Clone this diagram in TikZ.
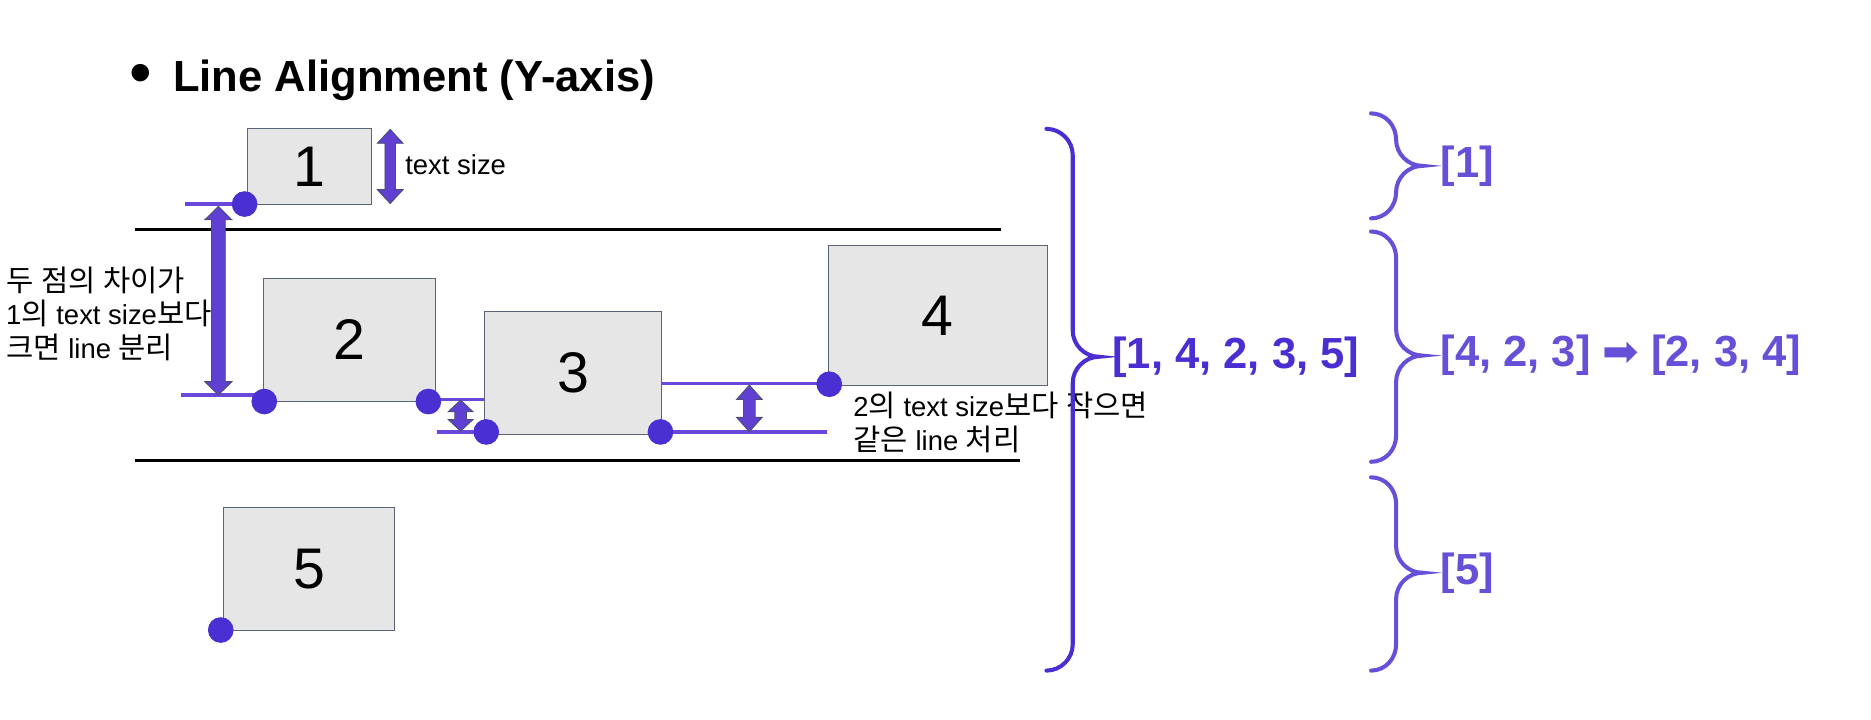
\documentclass[tikz,border=0pt]{standalone}
\usepackage{fontspec}
\setmainfont{Liberation Sans}
\newfontfamily\kr[Scale=1.08]{Noto Sans CJK KR}
\newfontfamily\djv{DejaVu Sans}
\definecolor{dotc}{HTML}{4A30D2}
\definecolor{linec}{HTML}{6A48DC}
\definecolor{arrf}{HTML}{6040D2}
\definecolor{arro}{HTML}{4A5068}
\definecolor{boxf}{HTML}{E6E6E6}
\definecolor{boxd}{HTML}{5B6478}
\definecolor{darkp}{HTML}{4A2ED2}
\definecolor{lightp}{HTML}{6650D8}
\newcommand\dimarr[6]{%
  \path[dimarrow] (#1,#2) -- (#1+#5,#2+#6) -- (#1+#4,#2+#6) -- (#1+#4,#3-#6) -- (#1+#5,#3-#6) -- (#1,#3)
    -- (#1-#5,#3-#6) -- (#1-#4,#3-#6) -- (#1-#4,#2+#6) -- (#1-#5,#2+#6) -- cycle;}
\newcommand\rbrc[7]{%
  \draw[bracestyle,#1] (#2,#5) .. controls (#2+12,#5) and (#3,#5+10) .. (#3,#5+22) -- (#3,#6-22)
    .. controls (#3,#6-10) and (#4-12,#6) .. (#4,#6)
    .. controls (#4-12,#6) and (#3,#6+10) .. (#3,#6+22) -- (#3,#7-22)
    .. controls (#3,#7-10) and (#2+12,#7) .. (#2,#7);}
\tikzset{
  box/.style={draw=boxd, fill=boxf, line width=0.8pt, inner sep=0pt, font=\fontsize{48}{56}\selectfont},
  dot/.style={circle, fill=dotc, minimum size=21.5pt, inner sep=0pt},
  pline/.style={draw=linec, line width=2.6pt},
  bline/.style={draw=black, line width=2.5pt},
  bracestyle/.style={line width=3.4pt, line cap=round},
  dimarrow/.style={fill=arrf, draw=arro, line width=0.7pt, line join=miter},
  txt/.style={inner sep=0pt, font=\fontsize{23}{28}\selectfont},
  big/.style={inner sep=0pt, anchor=west, font=\bfseries\fontsize{36.5}{40}\selectfont}
}
\begin{document}
\begin{tikzpicture}[x=1pt,y=-1pt]
\useasboundingbox (0,0) rectangle (1568,603);
\fill[white] (0,0) rectangle (1568,603);

% title
\node[anchor=base, inner sep=0pt, font=\fontsize{54}{60}\selectfont] (bul) at (118,79) {•};
\node[anchor=base west, inner sep=0pt, font=\bfseries\fontsize{36.5}{40}\selectfont] (title) at (145,77) {Line Alignment (Y-axis)};

% separator lines
\coordinate (s1a) at (113,192.5); \coordinate (s1b) at (839,192.5);
\coordinate (s2a) at (113,386); \coordinate (s2b) at (855,386);
\draw[bline] (s1a) -- (s1b);
\draw[bline] (s2a) -- (s2b);

% boxes
\node[box, minimum width=104pt, minimum height=63pt] (b1) at (259,139.5) {1};
\node[box, minimum width=144pt, minimum height=103.5pt] (b2) at (293,284.75) {2};
\node[box, minimum width=148.5pt, minimum height=102.8pt] (b3) at (480.25,312.4) {3};
\node[box, minimum width=183.7pt, minimum height=117pt] (b4) at (785.85,264.5) {4};
\node[box, minimum width=144pt, minimum height=103pt] (b5) at (259,476.5) {5};

% dot positions
\coordinate (c1) at (205,171);
\coordinate (c2a) at (221.5,336.5);
\coordinate (c2b) at (359,336.5);
\coordinate (c3a) at (407.5,362);
\coordinate (c3b) at (553.5,362);
\coordinate (c4) at (695,322);
\coordinate (c5) at (185,528);

% purple lines
\coordinate (l1) at (155,171);
\draw[pline] (l1) -- (c1);
\coordinate (l2) at (152,331);
\draw[pline] (l2) -- (l2 -| c2a);
\coordinate (m23) at (359,334.7);
\draw[pline] (m23) -- (m23 -| b3.west);
\coordinate (l3) at (366,362);
\draw[pline] (l3) -- (c3a);
\coordinate (l4) at (693,362);
\draw[pline] (c3b) -- (l4);
\coordinate (u4) at (554.5,321.5);
\draw[pline] (u4) -- (u4 -| c4);

\node[dot] (d1) at (c1) {};
\node[dot] (d2a) at (c2a) {};
\node[dot] (d2b) at (c2b) {};
\node[dot] (d3a) at (c3a) {};
\node[dot] (d3b) at (c3b) {};
\node[dot] (d4) at (c4) {};
\node[dot] (d5) at (c5) {};

% dimension arrows
\dimarr{327}{108.4}{170.6}{4.4}{10.8}{11.7}
\dimarr{183}{173}{331}{5.8}{11.4}{11.2}
\dimarr{386}{335.3}{361.3}{4.9}{10.5}{9.8}
\dimarr{628}{322.7}{361.8}{4.9}{10.7}{12}

% texts
\node[txt, anchor=west] (ts) at (339.5,138) {text size};
\node[txt, anchor=west, align=left] (lt) at (5,263) {{\kr 두} {\kr 점의} {\kr 차이가}\\1{\kr 의} text size{\kr 보다}\\{\kr 크면} line {\kr 분리}};
\node[txt, anchor=west, align=left] (rt) at (715,354) {2{\kr 의} text size{\kr 보다} {\kr 작으면}\\{\kr 같은} line {\kr 처리}};

% braces
\rbrc{draw=darkp}{877}{899}{921}{108}{299}{562}
\rbrc{draw=lightp}{1149}{1170}{1192}{95}{139}{183}
\rbrc{draw=lightp}{1149}{1170}{1192}{194}{298}{387}
\rbrc{draw=lightp}{1149}{1170}{1192}{400}{480}{562}

% labels
\node[big, text=darkp] (lall) at (932,299) {[1, 4, 2, 3, 5]};
\node[big, text=lightp] (lb1) at (1207,139) {[1]};
\node[big, text=lightp] (lb2) at (1207,298) {[4, 2, 3] {\djv\mdseries ➡} [2, 3, 4]};
\node[big, text=lightp] (lb3) at (1207,480) {[5]};
\end{tikzpicture}
\end{document}
